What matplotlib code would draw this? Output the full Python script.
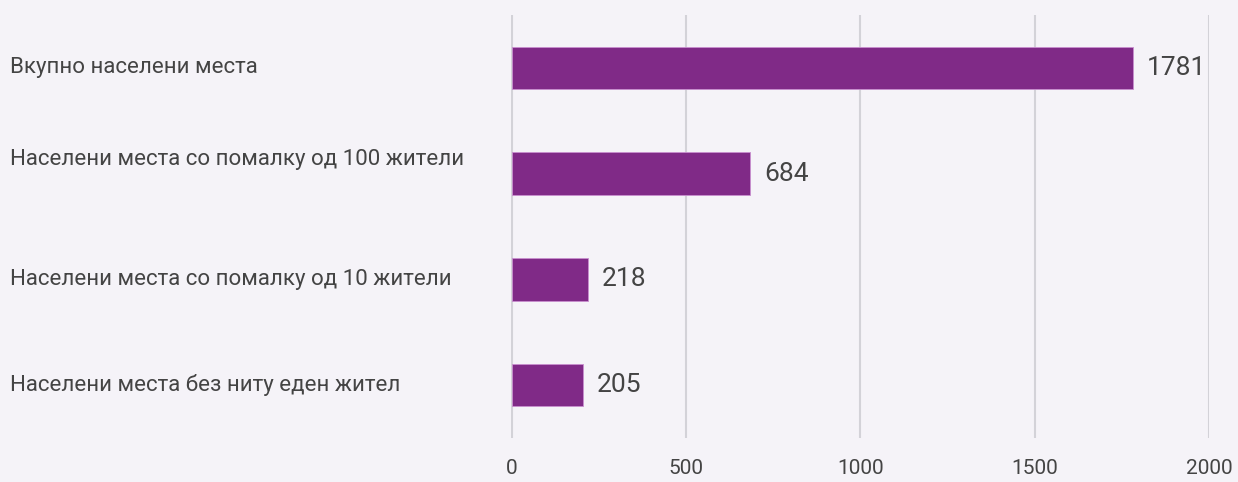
import matplotlib.pyplot as plt
from matplotlib import font_manager

# Податоци
categories = [
    'Вкупно населени места',
    'Населени места со помалку од 100 жители',
    'Населени места со помалку од 10 жители',
    'Населени места без ниту еден жител',
]
values = [1781, 684, 218, 205]
ticks = [0, 500, 1000, 1500, 2000]

bg = '#f5f3f8'
bar_color = '#802a87'
text_color = '#444444'

fig = plt.figure(figsize=(12.38, 4.82), dpi=100, facecolor=bg)
ax = fig.add_axes([0.4128, 0.0913, 0.5638, 0.8776], facecolor=bg)

pos = list(range(len(categories)))
ax.barh(pos, values, height=0.4, color=bar_color, edgecolor='#c98fcf', linewidth=0.6, zorder=3)
ax.set_ylim(len(categories) - 0.5, -0.5)
ax.set_xlim(-2, 2000)

# Вертикални линии на мрежата
ax.set_xticks(ticks)
ax.xaxis.grid(True, color='#d3d2d8', linewidth=1.5, zorder=0)
ax.set_yticks([])
for s in ax.spines.values():
    s.set_visible(False)
ax.tick_params(axis='x', length=0, pad=15, labelsize=15, labelcolor=text_color)
for lbl in ax.get_xticklabels():
    lbl.set_fontfamily('Roboto')

# Вредности до столбовите
for p, v in zip(pos, values):
    ax.annotate(str(v), (v, p), xytext=(10, 0), textcoords='offset points',
                va='center', ha='left', fontsize=19, color=text_color, family='Roboto')

# Имиња на категориите
offsets = [0, 10, 0, 0]
for p, c, off in zip(pos, categories, offsets):
    ax.annotate(c, (0, p), xycoords=('figure fraction', 'data'),
                xytext=(7, off), textcoords='offset points',
                va='center', ha='left', fontsize=16, color=text_color, family='Roboto')

fig.savefig('out.png', dpi=100, facecolor=bg)
